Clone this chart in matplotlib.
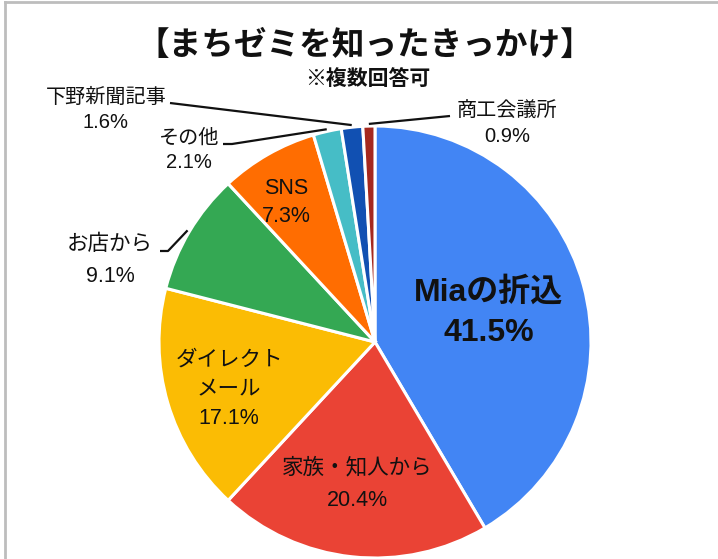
import numpy as np
import matplotlib
matplotlib.use("Agg")
import matplotlib.pyplot as plt

# ---- data ----
categories = ["Miaの折込", "家族・知人から", "ダイレクト\nメール", "お店から", "SNS",
              "その他", "下野新聞記事", "商工会議所"]
values = [41.5, 20.4, 17.1, 9.1, 7.3, 2.1, 1.6, 0.9]
colors = ["#4285F4", "#EA4335", "#FBBC04", "#34A853", "#FF6D01",
          "#46BDC6", "#1150B2", "#A5281E"]
title = "【まちゼミを知ったきっかけ】"
subtitle = "※複数回答可"

# ---- style / layout ----
W, H = 718, 559
plt.rcParams['font.family'] = ['Liberation Sans', 'Noto Sans CJK JP', 'DejaVu Sans']
fig = plt.figure(figsize=(W / 100, H / 100), dpi=100)
ax = fig.add_axes([0, 0, 1, 1])

cx, cy, R = 375, 342, 216  # pixel coords (y from top)
def Y(y):
    return H - y

wedges, _ = ax.pie(values, colors=colors, startangle=90, counterclock=False,
                   center=(cx, Y(cy)), radius=R,
                   wedgeprops=dict(edgecolor="white", linewidth=2.2))
ax.set_xlim(0, W)
ax.set_ylim(0, H)
ax.set_aspect("equal")
ax.axis("off")

# label placements: (x, y_name, y_pct, size, bold)
label_pos = [
    (489, 292, 333, 23, True),
    (357, 468, 501, 15.5, False),
    (229, 375, 419, 15.5, False),
    (110, 245, 276, 15.5, False),
    (286, 188, 217, 15.5, False),
    (189, 138, 162, 14.5, False),
    (106, 97, 122, 14.5, False),
    (507, 111, 137, 14.5, False),
]
for name, v, (x, yn, yp, s, b) in zip(categories, values, label_pos):
    w = "bold" if b else "normal"
    ls = 1.55 if "\n" in name else 1.2
    ax.text(x, Y(yn), name, ha="center", va="center", fontsize=s,
            fontweight=w, color="#111111", linespacing=ls)
    ax.text(x, Y(yp), f"{v:.1f}%", ha="center", va="center", fontsize=s,
            fontweight=w, color="#111111")

# leader lines: from label side to slice edge (computed from slice angles)
cum = np.cumsum([0] + values[:-1])
def edge_point(i, rf=1.0):
    mid = (cum[i] + values[i] / 2) / 100.0
    ang = np.deg2rad(90 - 360 * mid)
    return cx + R * rf * np.cos(ang), cy - R * rf * np.sin(ang)

leaders = {
    6: [(170, 103)],
    5: [(223, 144), (232, 144)],
    3: [(160, 251), (168, 251)],
    7: [(450, 116)],
}
for i, pts in leaders.items():
    ex, ey = edge_point(i, 1.01)
    xs = [p[0] for p in pts] + [ex]
    ys = [Y(p[1]) for p in pts] + [Y(ey)]
    ax.plot(xs, ys, color="#111111", lw=1.6, solid_capstyle="butt")

# titles
ax.text(365, Y(46), title, ha="center", va="center", fontsize=23.5, fontweight="bold",
        color="#111111")
ax.text(368, Y(79), subtitle, ha="center", va="center", fontsize=15, fontweight="bold",
        color="#111111")

# frame border (top and left)
ax.plot([5, W], [Y(1.5), Y(1.5)], color="#BDBDBD", lw=2, clip_on=False)
ax.plot([5, 5], [Y(1.5), 0], color="#BDBDBD", lw=2, clip_on=False)

fig.savefig("out.png", dpi=100)
